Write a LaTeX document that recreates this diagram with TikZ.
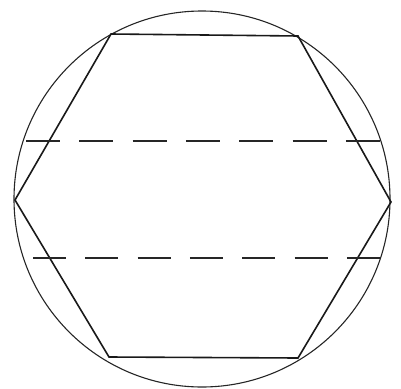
\documentclass[tikz,border=0pt]{standalone}
\usepackage{tikz}
\usetikzlibrary{positioning}

\begin{document}
\begin{tikzpicture}[
    x=1pt, y=-1pt,
    rim/.style={draw=black!85, line width=1.1pt},
    hexedge/.style={draw=black!90, line width=1.6pt, line join=miter},
    cutline/.style={draw=black!85, line width=1.8pt}
]

\useasboundingbox (0,0) rectangle (401,388);

% Circumscribed circle
\coordinate (centre) at (202,199);
\draw[rim] (centre) circle[radius=188];

% Hexagon corners
\coordinate (left) at (15,200);
\coordinate (topleft) at (111,34);
\coordinate (topright) at (298,36);
\coordinate (right) at (391,202);
\coordinate (botright) at (298,358);
\coordinate (botleft) at (109,357);

\draw[hexedge] (left) -- (topleft) -- (topright) -- (right)
    -- (botright) -- (botleft) -- cycle;

% Dashed chords
\coordinate (upA) at (26,141);
\coordinate (upB) at (380,141);
\coordinate (loA) at (33,258);
\coordinate (loB) at (380,258);
\draw[cutline, dash pattern=on 34pt off 19.3pt] (upA) -- (upB);
\draw[cutline, dash pattern=on 33pt off 19.3pt] (loA) -- (loB);

\end{tikzpicture}
\end{document}
